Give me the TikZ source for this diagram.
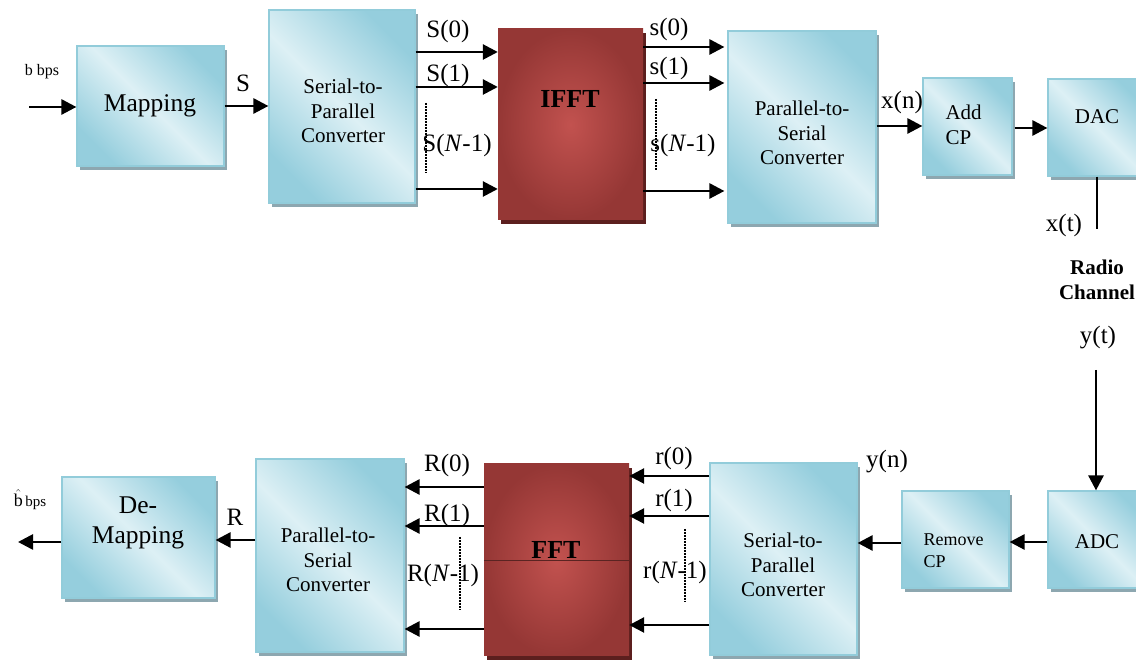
\documentclass[tikz,border=0pt]{standalone}
\usepackage{fontspec}
\setmainfont{Liberation Serif}
\usetikzlibrary{arrows.meta,shadows}
\definecolor{boxlight}{HTML}{DDF0F5}
\definecolor{boxdark}{HTML}{95CEDD}
\definecolor{boxedge}{HTML}{92CCDA}
\definecolor{boxshadow}{HTML}{8DA7B0}
\definecolor{fftouter}{HTML}{953735}
\definecolor{fftinner}{HTML}{C2524F}
\definecolor{fftshadow}{HTML}{5C1F1E}
\definecolor{fftline}{HTML}{5A2422}
\begin{document}
\begin{tikzpicture}
  [
    x=1pt, y=1pt,
    block/.style={draw=boxedge, line width=1.2pt, top color=boxdark, bottom color=boxdark,
      middle color=boxlight, shading angle=-45, inner sep=0pt,
      drop shadow={shadow xshift=3pt, shadow yshift=-4pt, fill=boxshadow, opacity=1}},
    fftblock/.style={inner color=fftinner, outer color=fftouter, inner sep=0pt,
      drop shadow={shadow xshift=3pt, shadow yshift=-4pt, fill=fftshadow, opacity=1}},
    arrow/.style={line width=2.7pt, -{Triangle[length=15pt,width=15pt]}},
    dots/.style={dash pattern=on 0.8pt off 0.7pt, line width=1.2pt},
    sig/.style={font=\fontsize{25}{28}\selectfont},
    blocktext/.style={font=\fontsize{21}{24.5}\selectfont, align=center}
  ]
  \useasboundingbox (0,0) rectangle (1136,660);
  % transmitter blocks
  \node [block, minimum width=147pt, minimum height=120pt] (map) at (150.5,554) {};
  \node [block, minimum width=146pt, minimum height=193pt] (sp1) at (342,553.5) {};
  \node [fftblock, minimum width=145pt, minimum height=191pt] (ifft) at (570.5,535.5) {};
  \node [block, minimum width=148pt, minimum height=192pt] (ps1) at (802,533) {};
  \node [block, minimum width=89pt, minimum height=97pt] (addcp) at (967.5,533.5) {};
  \node [block, minimum width=98pt, minimum height=97pt] (dac) at (1097,532.5) {};
  % receiver blocks
  \node [block, minimum width=98pt, minimum height=97pt] (adc) at (1097,120.5) {};
  \node [block, minimum width=107pt, minimum height=97pt] (rmcp) at (955.5,120.5) {};
  \node [block, minimum width=147pt, minimum height=192pt] (sp2) at (783.5,101) {};
  \node [fftblock, minimum width=145pt, minimum height=192pt] (fft) at (556.5,100) {};
  \node [block, minimum width=148pt, minimum height=193pt] (ps2) at (330,104.5) {};
  \node [block, minimum width=153pt, minimum height=121pt] (demap) at (138.5,122.5) {};
  \draw [fftline, line width=0.8pt] (fft.west) -- (fft.east);
  % block texts
  \node [font=\fontsize{25.5}{28}\selectfont] (map-t) at (150,554) {Mapping};
  \node [blocktext] (sp1-t) at (343,549) {Serial-to-\\Parallel\\Converter};
  \node [font=\fontsize{26}{28}\selectfont\bfseries] (ifft-t) at (570,561) {IFFT};
  \node [blocktext] (ps1-t) at (802,527) {Parallel-to-\\Serial\\Converter};
  \node [blocktext, align=left, anchor=west] (addcp-t) at (942,535) {Add\\CP};
  \node [blocktext] (dac-t) at (1097,543) {DAC};
  \node [blocktext] (adc-t) at (1097,118) {ADC};
  \node [font=\fontsize{18}{22}\selectfont, align=left, anchor=west] (rmcp-t) at (920,109) {Remove\\CP};
  \node [blocktext] (sp2-t) at (783,95) {Serial-to-\\Parallel\\Converter};
  \node [font=\fontsize{26}{28}\selectfont\bfseries] (fft-t) at (556,110) {FFT};
  \node [blocktext] (ps2-t) at (328,100) {Parallel-to-\\Serial\\Converter};
  \node [font=\fontsize{25.5}{30}\selectfont, align=center] (demap-t) at (138,137.5) {De-\\Mapping};
  % signal labels
  \node [font=\fontsize{16}{18}\selectfont] (bin-l) at (42,588) {b bps};
  \node [sig] (s-l) at (243,577) {S};
  \node [sig] (s0-l) at (448,628) {S(0)};
  \node [sig] (s1-l) at (448,585) {S(1)};
  \node [sig] (sn-l) at (457,515) {S(\textit{N}-1)};
  \node [sig] (t0-l) at (669,630) {s(0)};
  \node [sig] (t1-l) at (669,592) {s(1)};
  \node [sig] (tn-l) at (683,515) {s(\textit{N}-1)};
  \node [sig] (xn-l) at (902,558) {x(n)};
  \node [sig] (xt-l) at (1064,435) {x(t)};
  \node [font=\fontsize{21}{25}\selectfont\bfseries, align=center] (chan-l) at (1097,380.5) {Radio\\Channel};
  \node [sig] (yt-l) at (1098,322) {y(t)};
  \node [sig] (yn-l) at (887,198) {y(n)};
  \node [sig] (r0-l) at (674,202) {r(0)};
  \node [sig] (r1-l) at (674,160) {r(1)};
  \node [sig] (rn-l) at (675,88) {r(\textit{N}-1)};
  \node [sig] (q0-l) at (447,195) {R(0)};
  \node [sig] (q1-l) at (447,145) {R(1)};
  \node [sig] (qn-l) at (443,85) {R(\textit{N}-1)};
  \node [sig] (r-l) at (235,143) {R};
  \node [inner sep=1pt] (bout-l) at (30,160)
    {{\fontsize{18}{20}\selectfont$\hat{\mbox{b}}$} {\fontsize{15}{18}\selectfont bps}};
  % free ends
  \coordinate (bin) at (29,553);
  \coordinate (xt) at (1097,431);
  \coordinate (yt) at (1096,290);
  \coordinate (bout) at (18,118);
  % transmitter connectors
  \draw [arrow] (bin) -- (map.west |- bin);
  \draw [arrow] (map.east) -- (sp1.west |- map.east);
  \foreach \y in {608,573,471}
    \draw [arrow] (sp1.east |- 0,\y) -- (ifft.west |- 0,\y);
  \foreach \y in {613,577,469}
    \draw [arrow] (ifft.east |- 0,\y) -- ([xshift=-3pt]ps1.west |- 0,\y);
  \draw [arrow] (ps1.east |- 0,534) -- (addcp.west |- 0,534);
  \draw [arrow] ([xshift=2pt]addcp.east |- 0,532) -- (dac.west |- 0,532);
  \draw [line width=2.7pt] (dac.south) -- (xt);
  % receiver connectors
  \draw [arrow] (yt) -- (adc.north -| yt);
  \draw [arrow] (adc.west |- 0,118) -- (rmcp.east |- 0,118);
  \draw [arrow] (rmcp.west |- 0,117) -- (sp2.east |- 0,117);
  \foreach \y/\z in {184/173,144/134,35/31} {
    \draw [arrow] (sp2.west |- 0,\y) -- (fft.east |- 0,\y);
    \draw [arrow] (fft.west |- 0,\z) -- (ps2.east |- 0,\z);
  }
  \draw [arrow] (ps2.west |- 0,120) -- (demap.east |- 0,120);
  \draw [arrow] (demap.west |- bout) -- (bout);
  % dotted lines
  \draw [dots] (426,557) -- (426,487);
  \draw [dots] (656,561) -- (656,490);
  \draw [dots] (685,131) -- (685,58);
  \draw [dots] (460,123) -- (460,50);
\end{tikzpicture}
\end{document}
